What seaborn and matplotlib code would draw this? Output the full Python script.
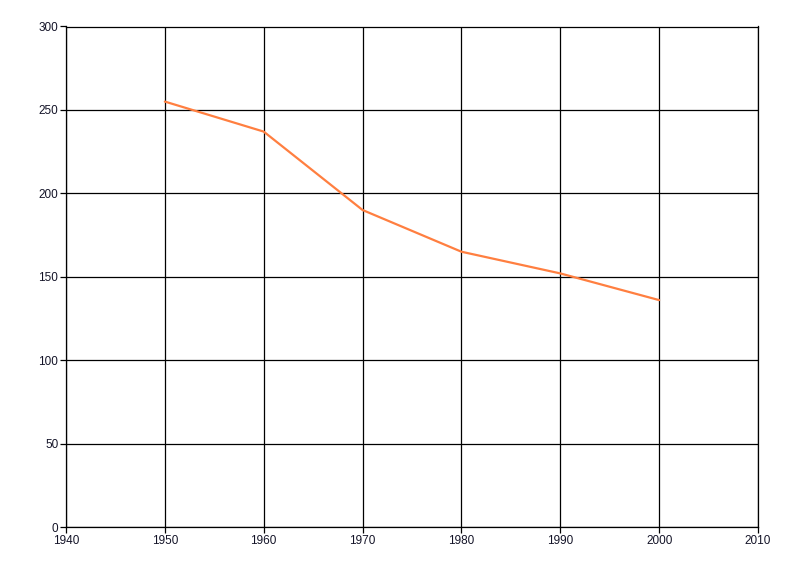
import matplotlib
matplotlib.use("Agg")
import matplotlib.pyplot as plt
import seaborn as sns
import pandas as pd

years = [1950, 1960, 1970, 1980, 1990, 2000]
values = [255, 237, 190, 165, 152, 136]
x_ticks = [1940, 1950, 1960, 1970, 1980, 1990, 2000, 2010]
y_ticks = [0, 50, 100, 150, 200, 250, 300]

sns.set_theme(style="white")
plt.rcParams['font.family'] = ['Liberation Sans', 'DejaVu Sans']

df = pd.DataFrame({"year": years, "value": values})

fig = plt.figure(figsize=(8, 5.76), dpi=100)
ax = fig.add_axes([66/800, 1 - 527/576, (758 - 66)/800, (527 - 26.5)/576])

sns.lineplot(data=df, x="year", y="value", ax=ax, color="#FF7F40", linewidth=1.6)

ax.set_xlim(1940, 2010)
ax.set_ylim(0, 300)
ax.set_xticks(x_ticks)
ax.set_yticks(y_ticks)
ax.set_xlabel("")
ax.set_ylabel("")
ax.grid(True, color="black", linewidth=0.9)
ax.set_axisbelow(True)
for s in ax.spines.values():
    s.set_visible(True)
    s.set_color("black")
    s.set_linewidth(0.9)
ax.tick_params(axis="both", direction="out", length=4, width=0.9, color="black",
               labelsize=8.5, labelcolor="#141428", pad=1.5, bottom=True, left=True,
               top=False, right=False)

fig.savefig("out.png", dpi=100)
